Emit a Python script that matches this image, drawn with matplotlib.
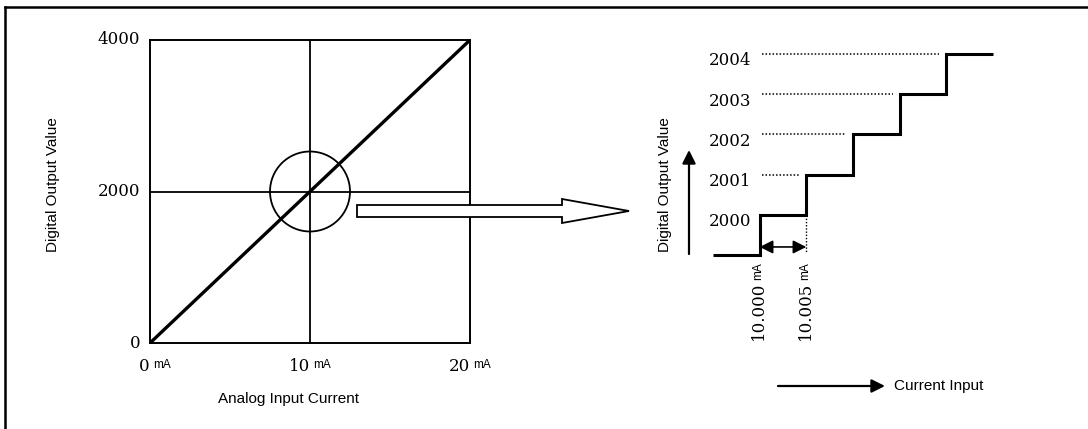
import matplotlib.pyplot as plt
import matplotlib.patches as mpatches
import numpy as np

# linear transfer: 0..20 mA -> 0..4000
current = [0, 20]
digital = [0, 4000]
x_ticks = [0, 10, 20]
x_tick_labels = ["0", "10", "20"]
y_ticks = [0, 2000, 4000]
zoom_center = (10, 2000)

# zoomed staircase around 10 mA (0.005 mA per count)
step_edges = [9.995, 10.000, 10.005, 10.010, 10.015, 10.020, 10.025]
step_levels = [1999, 2000, 2001, 2002, 2003, 2004]
level_labels = ["2000", "2001", "2002", "2003", "2004"]
marked_inputs = [10.000, 10.005]
marked_labels = ["10.000", "10.005"]

W, H = 1088, 429
fig = plt.figure(figsize=(W / 100, H / 100), dpi=100)

serif = "DejaVu Serif"
narrow = ["Liberation Sans Narrow", "Liberation Sans", "DejaVu Sans"]


def px(x, y):
    return x / W, 1 - y / H


def rect(x0, y0, x1, y1):
    return [x0 / W, 1 - y1 / H, (x1 - x0) / W, (y1 - y0) / H]


# frame (top and left edges only)
fig.add_artist(plt.Line2D([5 / W, 1], [1 - 6.5 / H] * 2, color="black", lw=1.8))
fig.add_artist(plt.Line2D([5 / W] * 2, [0, 1 - 6.5 / H], color="black", lw=1.8))

# ---- left chart ----
ax = fig.add_axes(rect(150, 40, 470, 343))
ax.plot(current, digital, color="black", lw=2.4, solid_capstyle="butt")
ax.axvline(x_ticks[1], color="black", lw=1.3)
ax.axhline(y_ticks[1], color="black", lw=1.3)
ax.set_xlim(current)
ax.set_ylim(digital)
ax.set_xticks([])
ax.set_yticks([])
for s in ax.spines.values():
    s.set_linewidth(1.4)

# zoom circle, 40 px radius
ppx = 320 / (current[1] - current[0])
ppy = 303 / (digital[1] - digital[0])
ax.add_patch(mpatches.Ellipse(zoom_center, 80 / ppx, 80 / ppy, fill=False,
                              color="black", lw=1.3))

for v in y_ticks:
    ax.text(-0.6, v, str(v), ha="right", va="center", fontsize=12,
            family=serif)
for v, lab in zip(x_ticks, x_tick_labels):
    ax.annotate(lab, (v, 0), xytext=(0, -17), textcoords="offset points",
                ha="right", va="center", fontsize=12, family=serif,
                annotation_clip=False)
    ax.annotate("mA", (v, 0), xytext=(2, -16), textcoords="offset points",
                ha="left", va="center", fontsize=8.5, family=narrow,
                annotation_clip=False)

fig.text(*px(289, 399), "Analog Input Current", ha="center", va="center",
         fontsize=11, family=narrow)
fig.text(*px(53, 185), "Digital Output Value", ha="center", va="center",
         rotation=90, fontsize=11, family=narrow)

# hollow arrow pointing to the zoomed view
arrow_pts = [(357, 205), (562, 205), (562, 199), (629, 211), (562, 223),
             (562, 217), (357, 217)]
fig.add_artist(mpatches.Polygon([px(*p) for p in arrow_pts], closed=True,
                                facecolor="white", edgecolor="black", lw=1.3))

# ---- right chart ----
ax2 = fig.add_axes(rect(713, 54, 993, 255))
ax2.set_xlim(step_edges[0], step_edges[-1])
ax2.set_ylim(step_levels[0], step_levels[-1])
ax2.axis("off")
ax2.stairs(step_levels, step_edges, color="black", lw=2.2, baseline=None,
           clip_on=False)

dx = step_edges[1] - step_edges[0]
for i, lab in enumerate(level_labels):
    lev = step_levels[i + 1]
    if i > 0:
        ax2.plot([step_edges[1] + 0.0002, step_edges[i + 1] - 0.15 * dx],
                 [lev, lev], color="black", lw=1.1, ls=(0, (1, 1.3)),
                 clip_on=False)
    ax2.annotate(lab, (step_edges[1], lev), xytext=(-6, -5),
                 textcoords="offset points", ha="right", va="center",
                 fontsize=12, family=serif, annotation_clip=False)

# dotted drop from the second edge and the spacing arrow
ax2.plot([marked_inputs[1]] * 2, [step_levels[1], step_levels[0] + 0.08],
         color="black", lw=1.0, ls=(0, (1, 1.3)), clip_on=False)
ax2.annotate("", xy=(marked_inputs[0], step_levels[0] + 0.2),
             xytext=(marked_inputs[1], step_levels[0] + 0.2),
             arrowprops=dict(arrowstyle="<|-|>", color="black", lw=1.2,
                             mutation_scale=20, shrinkA=0, shrinkB=0),
             annotation_clip=False)

for v, lab in zip(marked_inputs, marked_labels):
    ax2.annotate("mA", (v, step_levels[0]), xytext=(-1, -5),
                 textcoords="offset points", ha="center", va="top",
                 rotation=90, fontsize=8.5, family=narrow,
                 annotation_clip=False)
    ax2.annotate(lab, (v, step_levels[0]), xytext=(-1, -19.5),
                 textcoords="offset points", ha="center", va="top",
                 rotation=90, fontsize=12, family=serif,
                 annotation_clip=False)

# axis direction arrows
fig.add_artist(mpatches.FancyArrowPatch(px(689, 254), px(689, 150),
                                        arrowstyle="-|>", mutation_scale=20,
                                        color="black", lw=1.6,
                                        shrinkA=0, shrinkB=0))
fig.text(*px(665, 185), "Digital Output Value", ha="center", va="center",
         rotation=90, fontsize=11, family=narrow)
fig.add_artist(mpatches.FancyArrowPatch(px(778, 386), px(885, 386),
                                        arrowstyle="-|>", mutation_scale=20,
                                        color="black", lw=1.6,
                                        shrinkA=0, shrinkB=0))
fig.text(*px(894, 386), "Current Input", ha="left", va="center",
         fontsize=11, family=narrow)

fig.savefig("out.png", dpi=100)
